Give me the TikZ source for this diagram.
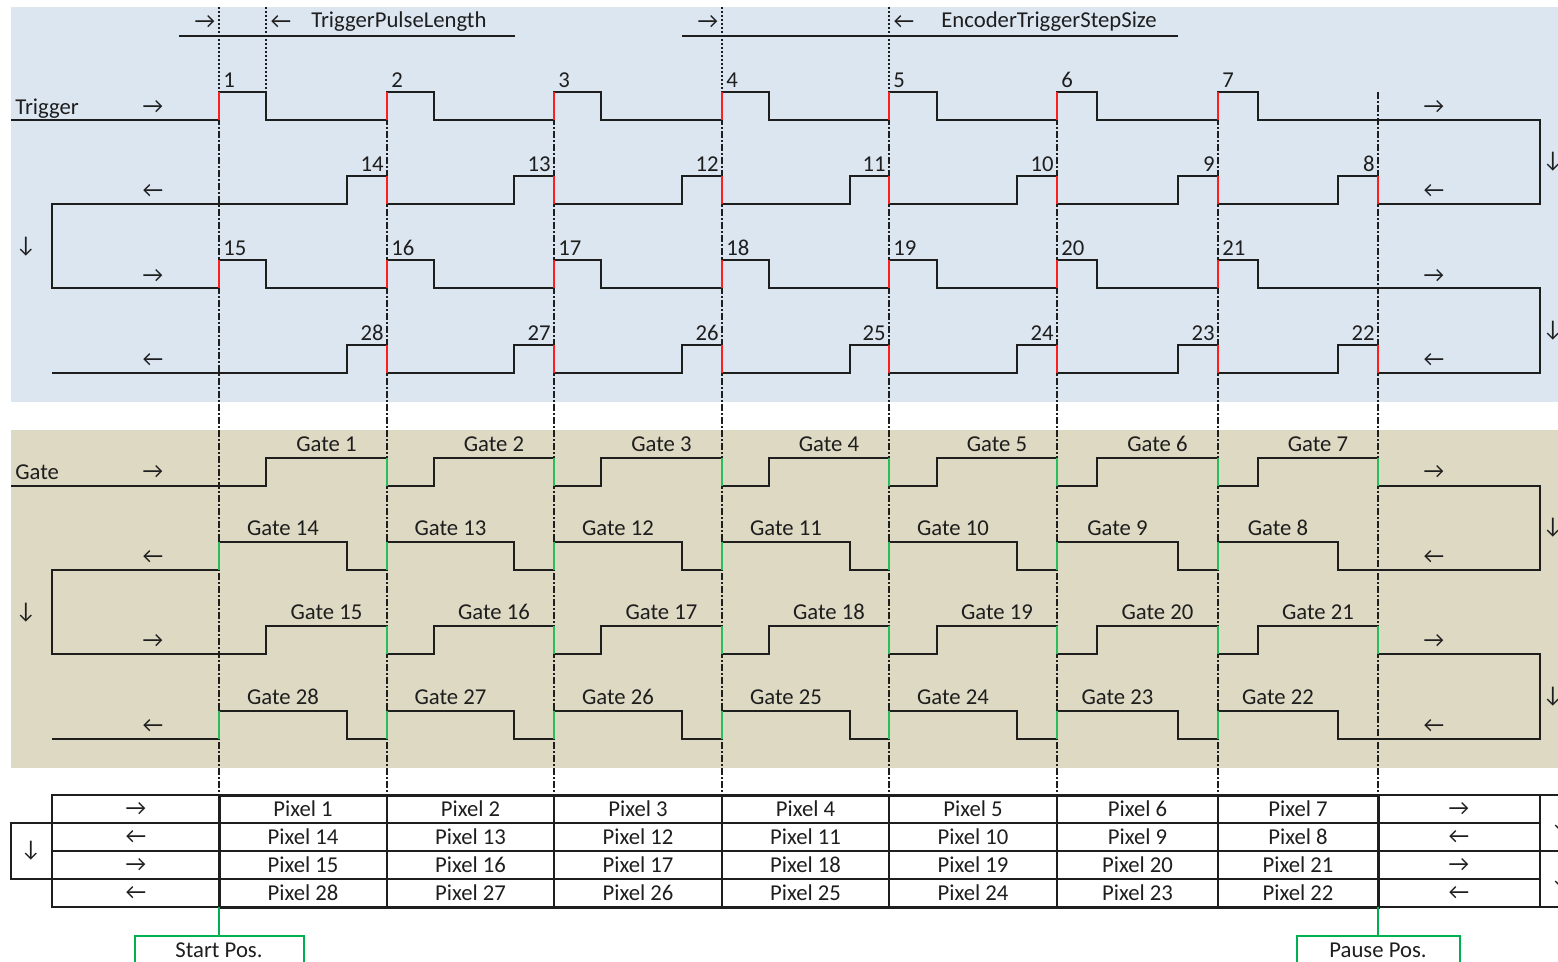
\documentclass[tikz,border=0pt]{standalone}
\usepackage{fontspec}
\setmainfont{Carlito}
\usepackage{xcolor}
\usetikzlibrary{positioning}
\definecolor{trigblue}{RGB}{220,230,241}
\definecolor{gatetan}{RGB}{221,217,195}
\definecolor{edgered}{RGB}{255,30,30}
\definecolor{edgegreen}{RGB}{40,190,90}
\definecolor{posgreen}{RGB}{0,176,80}
\definecolor{inkgray}{RGB}{30,30,30}

\begin{document}
\begin{tikzpicture}[x=0.5pt,y=-0.5pt,
  every node/.style={font=\fontsize{11.35}{13}\selectfont, text=inkgray, inner sep=1pt},
  signal/.style={line width=1pt, draw=inkgray},
  trigedge/.style={line width=1pt, draw=edgered},
  gateedge/.style={line width=1pt, draw=edgegreen},
  guide/.style={line width=0.6pt, draw=inkgray, dash pattern=on 3.5pt off 1pt on 1pt off 1pt},
  fineguide/.style={line width=0.6pt, draw=inkgray, dash pattern=on 1pt off 1pt},
  grid/.style={line width=0.7pt, draw=inkgray},
  posbox/.style={draw=posgreen, line width=1pt, minimum width=#1, minimum height=14pt, inner sep=0pt},
  posline/.style={draw=posgreen, line width=1pt}]
  \def\trigrise{219/266,387/434,554/601,722/769,889/937,1057/1097,1218/1258}
  \def\trigback{1378/1338,1218/1178,1057/1017,889/850,722/682,554/514,387/347}
  \def\gatefwd{266/387,434/554,601/722,769/889,937/1057,1097/1218,1258/1378}
  \def\gateback{1338/1218,1178/1057,1017/889,850/722,682/554,514/387,347/219}

  \useasboundingbox (0,0) rectangle (1558,962);
  \clip (0,0) rectangle (1558,962);

  %Backgrounds
  \fill[trigblue] (11,7) rectangle (1558,402);
  \fill[gatetan] (11,430) rectangle (1558,768);

  %Vertical guide lines
  \foreach \x in {219,387,554,722,889,1057,1218,1378}
    \draw[guide] (\x,92) -- (\x,795);
  \foreach \x in {219,266,722,889}
    \draw[fineguide] (\x,7) -- (\x,92);

  %Step size labels
  \draw[signal] (179,36) -- (515,36);
  \node (plsr) at (205,22) {→};
  \node (plsl) at (281,22) {←};
  \node (pls) [anchor=west] at (309,22) {TriggerPulseLength};
  \draw[signal] (682,36) -- (1178,36);
  \node (stpr) at (708,22) {→};
  \node (stpl) at (904,22) {←};
  \node (stp) [anchor=west] at (939,22) {EncoderTriggerStepSize};

  %Trigger signal
  \draw[signal] (11,120) foreach \a/\b in \trigrise {-- (\a,120) -- (\a,92) -- (\b,92) -- (\b,120)} -- (1540,120) -- (1540,204)
    foreach \f/\r in \trigback {-- (\f,204) -- (\f,176) -- (\r,176) -- (\r,204)} -- (52,204) -- (52,288)
    foreach \a/\b in \trigrise {-- (\a,288) -- (\a,260) -- (\b,260) -- (\b,288)} -- (1540,288) -- (1540,373)
    foreach \f/\r in \trigback {-- (\f,373) -- (\f,345) -- (\r,345) -- (\r,373)} -- (52,373);
  \foreach \a/\b [count=\i] in \trigrise {
    \pgfmathtruncatemacro\k{\i+14}
    \draw[trigedge] (\a,120) -- (\a,92) (\a,288) -- (\a,260);
    \node (t\i) [anchor=south west] at (\a+2,90) {\i};
    \node (t\k) [anchor=south west] at (\a+2,258) {\k};
  }
  \foreach \f/\r [count=\i] in \trigback {
    \pgfmathtruncatemacro\k{\i+7}
    \pgfmathtruncatemacro\m{\i+21}
    \draw[trigedge] (\f,204) -- (\f,176) (\f,373) -- (\f,345);
    \node (t\k) [anchor=south east] at (\f-1,174) {\k};
    \node (t\m) [anchor=south east] at (\f-1,343) {\m};
  }
  \node (trig) [anchor=west] at (13,109) {Trigger};

  %Gate signal
  \draw[signal] (11,486) foreach \r/\f in \gatefwd {-- (\r,486) -- (\r,458) -- (\f,458) -- (\f,486)} -- (1540,486) -- (1540,570)
    foreach \r/\l in \gateback {-- (\r,570) -- (\r,542) -- (\l,542) -- (\l,570)} -- (52,570) -- (52,654)
    foreach \r/\f in \gatefwd {-- (\r,654) -- (\r,626) -- (\f,626) -- (\f,654)} -- (1540,654) -- (1540,739)
    foreach \r/\l in \gateback {-- (\r,739) -- (\r,711) -- (\l,711) -- (\l,739)} -- (52,739);
  \foreach \r/\f [count=\i] in \gatefwd {
    \pgfmathtruncatemacro\k{\i+14}
    \draw[gateedge] (\f,458) -- (\f,486) (\f,626) -- (\f,654);
    \node (g\i) [anchor=south] at ({(\r+\f)/2},454) {Gate \i};
    \node (g\k) [anchor=south] at ({(\r+\f)/2},622) {Gate \k};
  }
  \foreach \r/\l [count=\i] in \gateback {
    \pgfmathtruncatemacro\k{\i+7}
    \pgfmathtruncatemacro\m{\i+21}
    \draw[gateedge] (\l,542) -- (\l,570) (\l,711) -- (\l,739);
    \node (g\k) [anchor=south] at ({(\r+\l)/2},538) {Gate \k};
    \node (g\m) [anchor=south] at ({(\r+\l)/2},707) {Gate \m};
  }
  \node (gate) [anchor=west] at (13,472) {Gate};

  %Direction arrows
  \foreach \y/\s [count=\i] in {107/→,191/←,276/→,360/←,472/→,557/←,641/→,726/←} {
    \node (dl\i) at (153,\y) {\s};
    \node (dr\i) at (1434,\y) {\s};
  }
  \foreach \x/\y [count=\i] in {26/247,1553/162,1553/331,26/613,1553/528,1553/697}
    \node (dd\i) at (\x,\y) {↓};

  %Pixel table
  \foreach \y in {823,851,879} \draw[grid] (52,\y) -- (1540,\y);
  \foreach \x in {387,554,722,889,1057,1218} \draw[grid] (\x,795) -- (\x,907);
  \draw[grid] (52,795) rectangle (1540,907);
  \draw[grid] (11,823) rectangle (52,879);
  \draw[grid] (1540,795) rectangle (1620,851) (1540,851) rectangle (1620,907);
  \draw[line width=1.5pt, inkgray] (219,795) rectangle (1378,907);
  \foreach \c [count=\i] in {303,470.5,638,805.5,973,1137.5,1298} {
    \pgfmathtruncatemacro\pa{15-\i}
    \pgfmathtruncatemacro\pb{14+\i}
    \pgfmathtruncatemacro\pc{29-\i}
    \node (px\i) at (\c,809) {Pixel \i};
    \node (px\pa) at (\c,837) {Pixel \pa};
    \node (px\pb) at (\c,865) {Pixel \pb};
    \node (px\pc) at (\c,893) {Pixel \pc};
  }
  \foreach \y/\s [count=\i] in {809/→,837/←,865/→,893/←} {
    \node (tl\i) at (136,\y) {\s};
    \node (tr\i) at (1459,\y) {\s};
  }
  \node (td1) at (31,851) {↓};
  \node (td2) at (1561,823) {↓};
  \node (td3) at (1561,879) {↓};

  %Start and pause positions
  \coordinate (startpin) at (219,907);
  \coordinate (pausepin) at (1378,907);
  \node (start) [posbox=84.5pt, below=14pt of startpin] {Start Pos.};
  \node (pause) [posbox=81.5pt, below=14pt of pausepin] {Pause Pos.};
  \draw[posline] (startpin) -- (start);
  \draw[posline] (pausepin) -- (pause);
\end{tikzpicture}
\end{document}
